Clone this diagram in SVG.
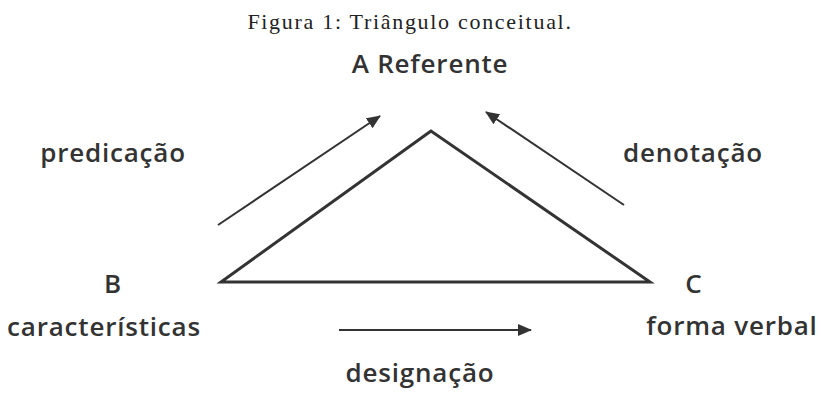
<svg xmlns="http://www.w3.org/2000/svg" width="821" height="400" viewBox="0 0 821 400">
<style>
.lbl{font-family:"Open Sans","DejaVu Sans",sans-serif;font-weight:600;font-size:26px;fill:#333;text-anchor:middle;letter-spacing:0.8px}
.title{font-family:"Liberation Serif","DejaVu Serif",serif;font-size:22px;fill:#222;text-anchor:middle;letter-spacing:1.7px}
.edge{stroke:#333;stroke-width:2;fill:none}
</style>
<defs>
<marker id="ah" viewBox="0 0 14 12" refX="13" refY="6" markerWidth="14" markerHeight="12" markerUnits="userSpaceOnUse" orient="auto">
<path d="M0,0 L14,6 L0,12 z" fill="#333"/>
</marker>
</defs>
<text class="title" x="410" y="29">Figura 1: Triângulo conceitual.</text>
<g id="A"><text class="lbl" x="430" y="73">A Referente</text></g>
<g id="B"><text class="lbl" x="113" y="293">B</text><text class="lbl" x="104" y="336">características</text></g>
<g id="C"><text class="lbl" x="694" y="293">C</text><text class="lbl" x="732" y="335">forma verbal</text></g>
<g id="triangle"><polygon points="431,131 221,282 650,282" fill="none" stroke="#333" stroke-width="3" stroke-linejoin="miter"/></g>
<g id="connectors">
<line class="edge" x1="218" y1="225" x2="380" y2="116" marker-end="url(#ah)"/>
<line class="edge" x1="624" y1="205" x2="486" y2="112" marker-end="url(#ah)"/>
<line class="edge" x1="339" y1="330" x2="531" y2="330" marker-end="url(#ah)"/>
<text class="lbl" x="113" y="162">predicação</text>
<text class="lbl" x="693" y="162">denotação</text>
<text class="lbl" x="420" y="382">designação</text>
</g>
</svg>
